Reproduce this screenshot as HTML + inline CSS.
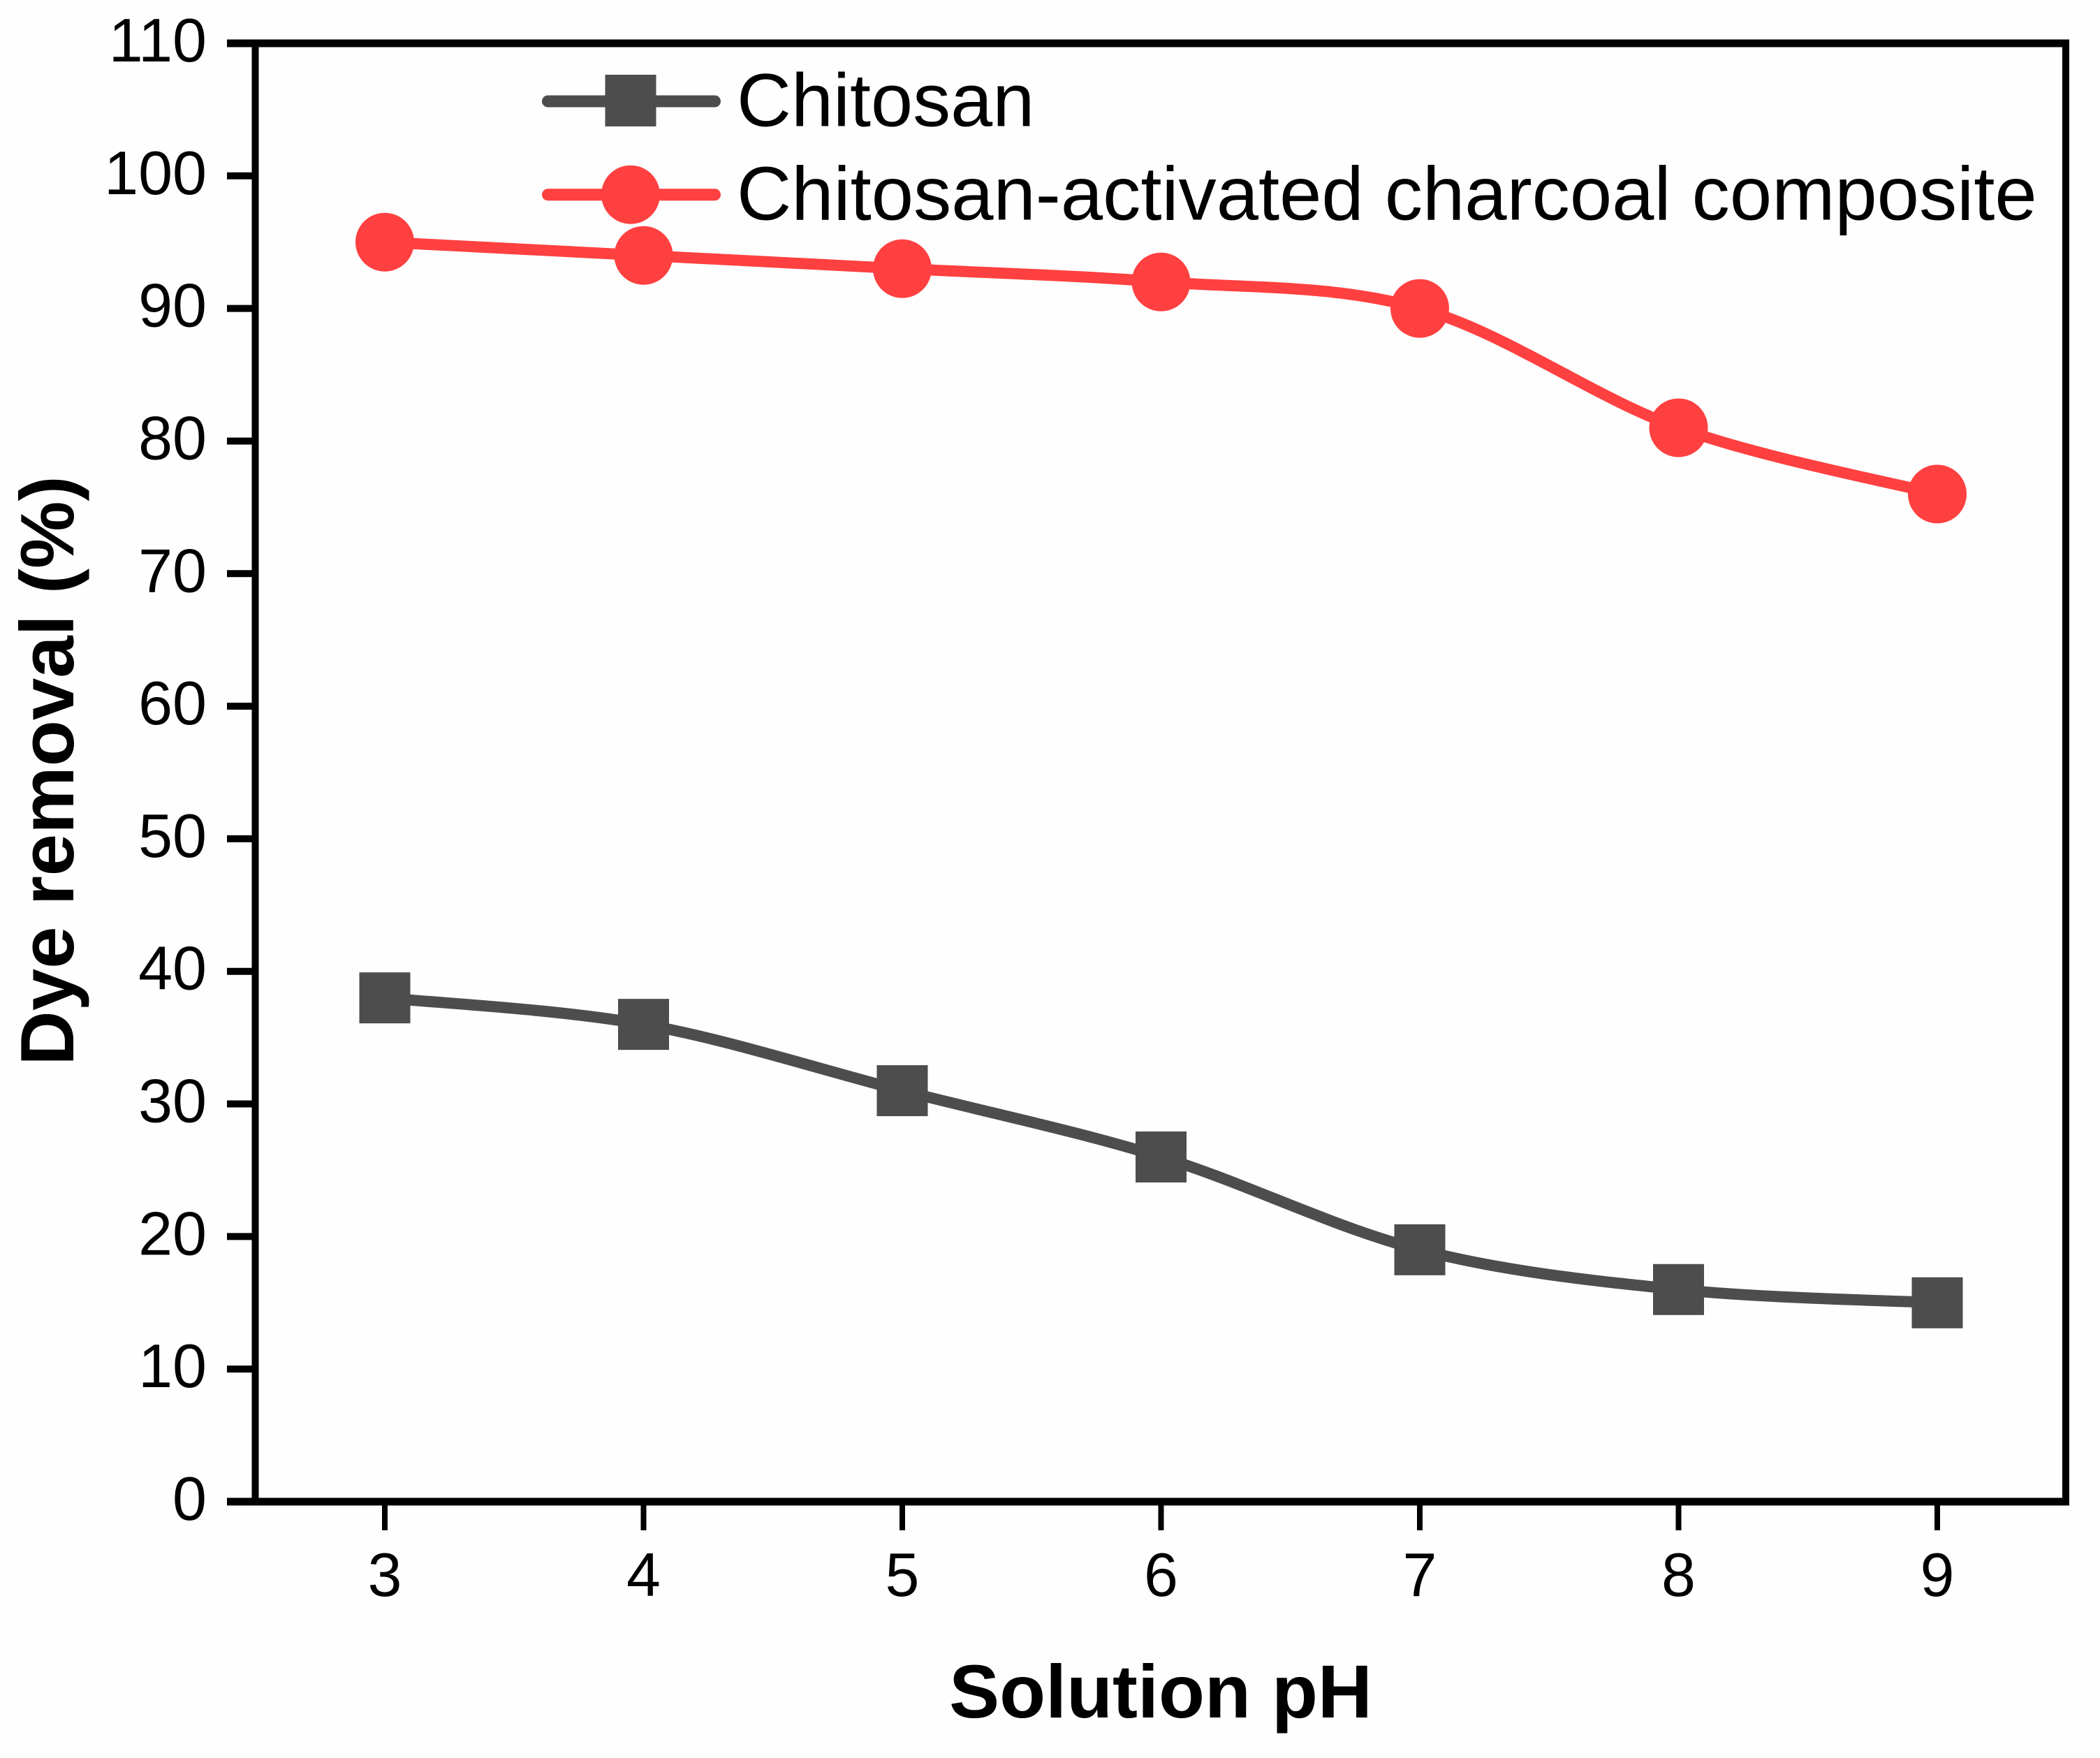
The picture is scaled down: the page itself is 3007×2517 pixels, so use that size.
<!DOCTYPE html>
<html lang="en">
<head>
<meta charset="utf-8">
<title>Dye removal vs solution pH</title>
<style>
html,body{margin:0;padding:0;background:#fefefe;}
svg{display:block;}
text{font-family:"Liberation Sans",Arial,sans-serif;fill:#000;}
</style>
</head>
<body>
<svg id="chart" xmlns="http://www.w3.org/2000/svg" width="3007" height="2517" viewBox="0 0 3007 2517">
  <rect x="0" y="0" width="3007" height="2517" fill="#fefefe"/>
  <g id="ticks"></g>
  <g id="frame">
    <line x1="365.5" y1="62" x2="365.5" y2="2150" stroke="#000" stroke-width="10"/>
    <line x1="2958" y1="57" x2="2958" y2="2155" stroke="#000" stroke-width="10"/>
    <line x1="325" y1="62" x2="2963" y2="62" stroke="#000" stroke-width="11"/>
    <line x1="325" y1="2150" x2="2963" y2="2150" stroke="#000" stroke-width="11"/>
  </g>
  <g id="series"></g>
  <g id="legend">
    <g>
      <line x1="784.500" y1="145" x2="1023.500" y2="145" stroke="#4d4d4d" stroke-width="17" stroke-linecap="round"/>
      <rect x="866.500" y="107" width="73" height="74" fill="#4d4d4d"/>
      <text x="1055" y="180.500" font-size="108">Chitosan</text>
    </g>
    <g>
      <line x1="784.500" y1="278.700" x2="1023.500" y2="278.700" stroke="#ff4040" stroke-width="17" stroke-linecap="round"/>
      <circle cx="903" cy="278.700" r="42" fill="#ff4040"/>
      <text x="1055" y="314.500" font-size="108.400">Chitosan-activated charcoal composite</text>
    </g>
  </g>
  <text x="1662" y="2459" font-size="108" font-weight="bold" text-anchor="middle">Solution pH</text>
  <text transform="translate(105 1103.500) rotate(-90)" x="0" y="0" font-size="108.500" font-weight="bold" text-anchor="middle">Dye removal (%)</text>
</svg>
<script>
var phValues = [3, 4, 5, 6, 7, 8, 9];
var chitosanValues = [38, 36, 31, 26, 19, 16, 15];
var compositeValues = [95, 94, 93, 92, 90, 81, 76];
var yTickLabels = [0, 10, 20, 30, 40, 50, 60, 70, 80, 90, 100, 110];
var xTickLabels = [3, 4, 5, 6, 7, 8, 9];

var SVG_NS = 'http://www.w3.org/2000/svg';
function xScale(v) { return 551 + (v - 3) * 370.5; }
function yScale(v) { return 2150 - v * 18.982; }

function svgEl(tag, attrs, parent) {
  var el = document.createElementNS(SVG_NS, tag);
  for (var k in attrs) { el.setAttribute(k, attrs[k]); }
  parent.appendChild(el);
  return el;
}

function splinePath(xs, ys) {
  var pts = xs.map(function (x, i) { return [xScale(x), yScale(ys[i])]; });
  var d = 'M' + pts[0][0] + ' ' + pts[0][1];
  for (var i = 0; i < pts.length - 1; i++) {
    var p0 = pts[Math.max(i - 1, 0)];
    var p1 = pts[i];
    var p2 = pts[i + 1];
    var p3 = pts[Math.min(i + 2, pts.length - 1)];
    var c1x = p1[0] + (p2[0] - p0[0]) / 6;
    var c1y = p1[1] + (p2[1] - p0[1]) / 6;
    var c2x = p2[0] - (p3[0] - p1[0]) / 6;
    var c2y = p2[1] - (p3[1] - p1[1]) / 6;
    d += ' C' + c1x + ' ' + c1y + ' ' + c2x + ' ' + c2y + ' ' + p2[0] + ' ' + p2[1];
  }
  return d;
}

var ticksGroup = document.getElementById('ticks');
yTickLabels.forEach(function (v) {
  var y = yScale(v);
  var tick = svgEl('line', { x1: 325, x2: 366, y1: y, y2: y, stroke: '#000', 'stroke-width': 10 }, ticksGroup);
  
  
  var label = svgEl('text', { x: 296, y: y + 26, 'font-size': 88, 'text-anchor': 'end' }, ticksGroup);
  
  
  label.textContent = String(v);
});
xTickLabels.forEach(function (v) {
  var x = xScale(v);
  var tick = svgEl('line', { x1: x, x2: x, y1: 2150, y2: 2191, stroke: '#000', 'stroke-width': 8 }, ticksGroup);
  
  
  var label = svgEl('text', { x: x, y: 2285, 'font-size': 88, 'text-anchor': 'middle' }, ticksGroup);
  
  
  label.textContent = String(v);
});

var seriesGroup = document.getElementById('series');

var chitosanLine = svgEl('path', { d: splinePath(phValues, chitosanValues), fill: 'none', stroke: '#4d4d4d', 'stroke-width': 16 }, seriesGroup);


phValues.forEach(function (x, i) {
  var square = svgEl('rect', { x: xScale(x) - 36.5, y: yScale(chitosanValues[i]) - 36.5, width: 73, height: 73, fill: '#4d4d4d' }, seriesGroup);
  
  
});

var compositeLine = svgEl('path', { d: splinePath(phValues, compositeValues), fill: 'none', stroke: '#ff4040', 'stroke-width': 16 }, seriesGroup);


phValues.forEach(function (x, i) {
  var dot = svgEl('circle', { cx: xScale(x), cy: yScale(compositeValues[i]), r: 42, fill: '#ff4040' }, seriesGroup);
  
  
});
</script>
</body>
</html>
